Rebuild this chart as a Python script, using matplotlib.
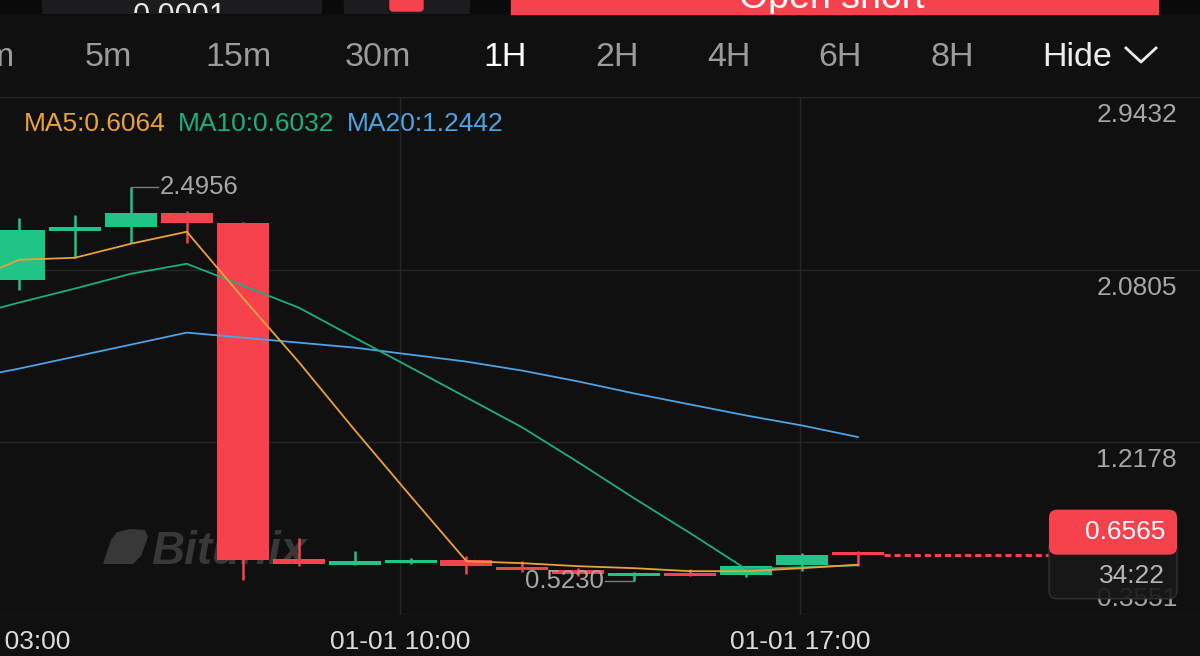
import numpy as np
import matplotlib.pyplot as plt
from matplotlib.patches import Rectangle, FancyBboxPatch, Polygon

plt.rcParams['font.family'] = ['Liberation Sans', 'DejaVu Sans']

# hourly candles, index 0 = leftmost visible bar
opens = [2.030, 2.275, 2.295, 2.365, 2.315, 0.634, 0.604, 0.614, 0.629, 0.594, 0.579, 0.549, 0.564, 0.554, 0.604, 0.660]
closes = [2.280, 2.295, 2.365, 2.315, 0.629, 0.609, 0.624, 0.629, 0.599, 0.579, 0.559, 0.564, 0.549, 0.599, 0.654, 0.6565]
highs = [2.340, 2.355, 2.4956, 2.372, 2.318, 0.739, 0.674, 0.639, 0.649, 0.624, 0.589, 0.569, 0.584, 0.599, 0.664, 0.674]
lows = [1.980, 2.140, 2.215, 2.215, 0.530, 0.599, 0.604, 0.609, 0.559, 0.569, 0.549, 0.5230, 0.549, 0.544, 0.574, 0.599]

# moving averages, first value belongs to the bar just left of the view
ma5 = [2.010, 2.130, 2.140, 2.210, 2.270, 1.940, 1.620, 1.280, 0.950, 0.624, 0.614, 0.599, 0.589, 0.574, 0.574, 0.589, 0.6064]
ma10 = [1.841, 1.916, 1.986, 2.060, 2.110, 2.001, 1.891, 1.741, 1.592, 1.442, 1.292, 1.118, 0.938, 0.764, 0.584, 0.594, 0.6032]
ma20 = [1.532, 1.586, 1.646, 1.706, 1.766, 1.741, 1.716, 1.691, 1.656, 1.621, 1.576, 1.522, 1.462, 1.407, 1.352, 1.302, 1.2442]

price_ticks = [2.9432, 2.0805, 1.2178, 0.3551]
time_labels = ["01-01 03:00", "01-01 10:00", "01-01 17:00"]
timeframes = ["1m", "5m", "15m", "30m", "1H", "2H", "4H", "6H", "8H"]

# colours
BG = '#101010'
RED = '#f7424e'
GREEN = '#1fc486'
C_MA5 = '#e9a23b'
C_MA10 = '#1cae7e'
C_MA20 = '#4ba4e3'
GRID = '#262626'
LABEL = '#a6a6a6'

fig = plt.figure(figsize=(12, 6.56), dpi=100, facecolor=BG)

# pixel-space layers below and above the chart
bg = fig.add_axes([0, 0, 1, 1], zorder=0)
bg.set_xlim(0, 1200)
bg.set_ylim(656, 0)
bg.axis('off')
bg.set_facecolor(BG)

ax = fig.add_axes([0, 41 / 656, 1, 518 / 656], zorder=1)
ax.set_facecolor('none')
fg = fig.add_axes([0, 0, 1, 1], zorder=2)
fg.set_xlim(0, 1200)
fg.set_ylim(656, 0)
fg.axis('off')
fg.set_facecolor('none')

# ---- top strip (cut-off order panel) ----
bg.add_patch(Rectangle((0, 0), 1200, 14, color='#0a0a0a'))
box1 = Rectangle((42, 0), 279, 13, color='#1c1c1e')
bg.add_patch(box1)
bg.add_patch(Rectangle((344, 0), 125, 13, color='#1c1c1e'))
bg.add_patch(FancyBboxPatch((390, -6), 33, 17, boxstyle='round,pad=0,rounding_size=3', color=RED))
btn = Rectangle((511, 0), 647, 14, color=RED)
bg.add_patch(btn)
t = bg.text(180, 2, "0.0001", color='#e8e8e8', fontsize=22, ha='center', va='top')
t.set_clip_path(box1)
t.set_clip_on(True)
t = bg.text(832, 8, "Open short", color='white', fontsize=27, ha='center', va='baseline')
t.set_clip_path(btn)
t.set_clip_on(True)

# ---- timeframe row ----
tf_x = [-9, 108, 238, 378, 505, 617, 729, 840, 952]
for name, x in zip(timeframes, tf_x):
    col = 'white' if name == '1H' else '#9b9b9b'
    bg.text(x, 57, name, color=col, fontsize=24.5, ha='center', va='center')
bg.text(1077, 57, "Hide", color='#ececec', fontsize=24.5, ha='center', va='center')
bg.plot([1126, 1141, 1156], [48, 62, 48], color='#ececec', lw=2)

# watermark
bg.add_patch(Polygon([(103, 564), (111, 540), (117, 532), (130, 529), (145, 530), (148, 537),
                      (141, 556), (133, 564)], closed=True, color='#383838', lw=0))
bg.text(151, 564, "Bitunix", color='#383838', fontsize=33, fontweight='bold', fontstyle='italic',
        ha='left', va='baseline')

# ---- chart ----
n = len(opens)
xs = np.arange(n)
ax.set_xlim(-19 / 55.93, (1200 - 19) / 55.93)
ax.set_ylim(price_ticks[-1], price_ticks[0])
for s in ax.spines.values():
    s.set_visible(False)
ax.set_xticks([])
ax.set_yticks([])

for p in price_ticks:
    ax.axhline(p, color=GRID, lw=1, zorder=0)
grid_x = [-0.34, 6.81, 13.96]
for gx in grid_x[1:]:
    ax.axvline(gx, color=GRID, lw=1, zorder=0)

colors = [GREEN if c >= o else RED for o, c in zip(opens, closes)]
bottoms = [min(o, c) for o, c in zip(opens, closes)]
heights = [max(abs(c - o), 0.012) for o, c in zip(opens, closes)]
ax.vlines(xs, lows, highs, colors=colors, lw=1.8, zorder=2)
ax.bar(xs, heights, bottom=bottoms, width=0.93, color=colors, zorder=3)

ma_x = np.arange(-1, n)
ax.plot(ma_x, ma20, color=C_MA20, lw=1.3, zorder=4)
ax.plot(ma_x, ma10, color=C_MA10, lw=1.3, zorder=4)
ax.plot(ma_x, ma5, color=C_MA5, lw=1.3, zorder=4)

# max / min markers
imax = int(np.argmax(highs))
ax.plot([imax, imax + 0.48], [highs[imax]] * 2, color='#7a7a7a', lw=1, zorder=5)
ax.text(imax + 0.52, highs[imax], f"{highs[imax]:.4f}", color=LABEL, fontsize=18.5,
        ha='left', va='center', zorder=5)
imin = int(np.argmin(lows))
ax.plot([imin, imin - 0.52], [lows[imin]] * 2, color='#7a7a7a', lw=1, zorder=5)
ax.text(imin - 0.55, lows[imin], f"{lows[imin]:.4f}", color=LABEL, fontsize=18.5,
        ha='right', va='center', zorder=5)

# time labels
for gx, lab in zip(grid_x, time_labels):
    ax.text(gx, -0.052, lab, transform=ax.get_xaxis_transform(), color='#dcdcdc',
            fontsize=19, ha='center', va='center', clip_on=False)

# price labels on the right
for i, p in enumerate(price_ticks):
    off = -18 if i < len(price_ticks) - 1 else 16
    ax.annotate(f"{p:.4f}", xy=(1177 / 1200, p), xycoords=ax.get_yaxis_transform(),
                xytext=(0, off), textcoords='offset pixels', color=LABEL, fontsize=19,
                ha='right', va='center', zorder=5)

# legend
fg.text(24, 124, f"MA5:{ma5[-1]:.4f}", color=C_MA5, fontsize=19, ha='left', va='center')
fg.text(178, 124, f"MA10:{ma10[-1]:.4f}", color=C_MA10, fontsize=19, ha='left', va='center')
fg.text(347, 124, f"MA20:{ma20[-1]:.4f}", color=C_MA20, fontsize=19, ha='left', va='center')

# current price line and tag
last = closes[-1]
ax.hlines(last, n - 1 + 0.47, (1049 - 19) / 55.93, colors=RED, lw=2.2,
          linestyles=(0, (2, 1.3)), zorder=3)
py = 656 - ax.transData.transform((0, last))[1]
fg.add_patch(FancyBboxPatch((1049, py - 15), 128, 59, boxstyle='round,pad=0,rounding_size=8',
                            facecolor='#181818', edgecolor='#3a3232', lw=1, alpha=0.9))
fg.add_patch(FancyBboxPatch((1049, py - 45), 128, 45, boxstyle='round,pad=0,rounding_size=8',
                            facecolor=RED, edgecolor='none'))
fg.text(1165, py - 23, f"{last:.4f}", color='white', fontsize=19, ha='right', va='center')
fg.text(1165, py + 21, "34:22", color='#b4b4b4', fontsize=19, ha='right', va='center')

fig.savefig('out.png', dpi=100, facecolor=BG)
